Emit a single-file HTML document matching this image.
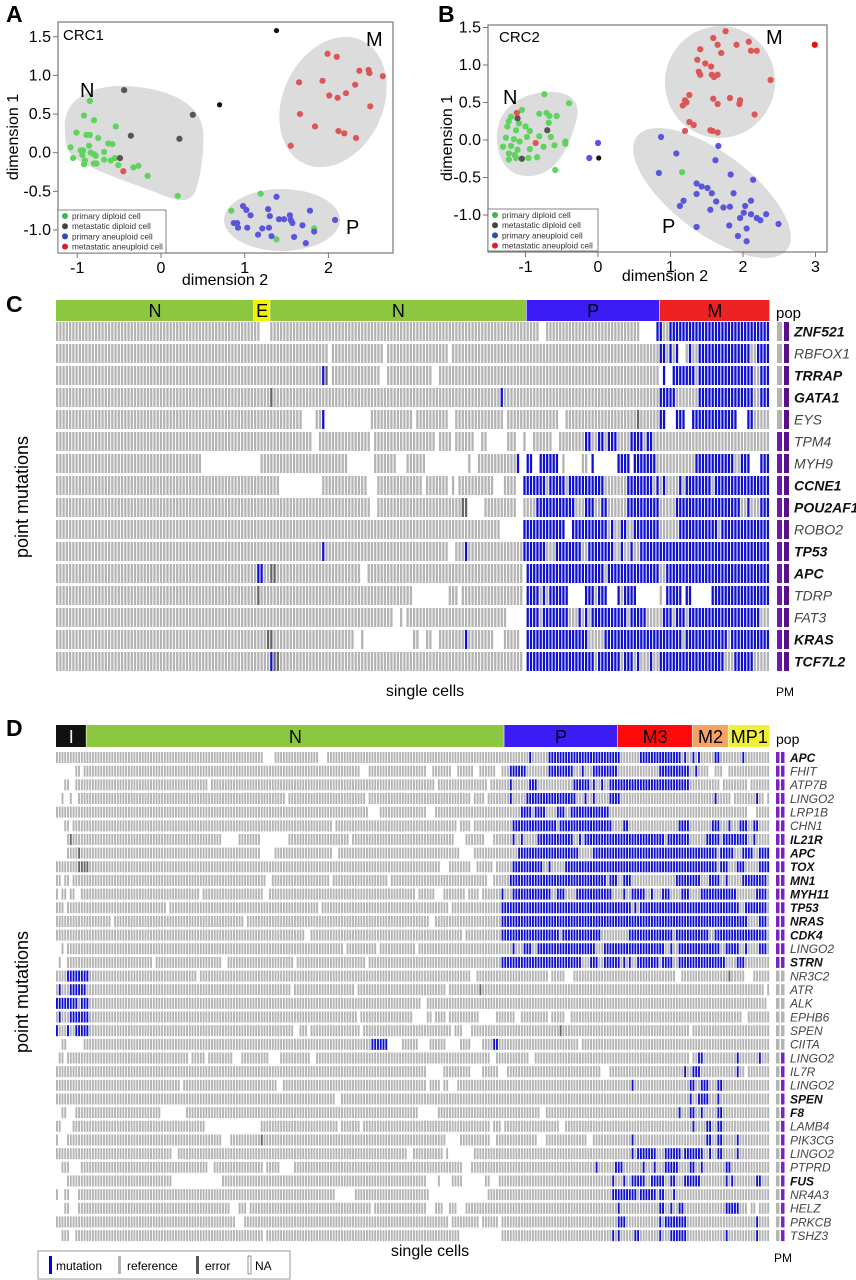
<!DOCTYPE html>
<html><head><meta charset="utf-8"><style>
html,body{margin:0;padding:0;background:#fff;}
svg{display:block;font-family:"Liberation Sans",Arial,sans-serif;}
</style></head><body>
<svg id="fig" width="856" height="1280" viewBox="0 0 856 1280" xmlns="http://www.w3.org/2000/svg">
<g id="pa">
<text x="6" y="22" font-size="23" font-weight="bold">A</text>
<path d="M65,130 C62,100 90,86 120,86 C160,86 200,100 203,130 C205,150 200,180 195,192 C190,202 180,202 165,196 C130,182 95,172 75,158 C66,152 65,142 65,130 Z" fill="#dcdcdc"/>
<ellipse cx="333" cy="102" rx="50" ry="68" transform="rotate(25 333 102)" fill="#dcdcdc"/>
<ellipse cx="282" cy="220" rx="58" ry="31" fill="#dcdcdc"/>
<rect x="58" y="22" width="335" height="231" fill="none" stroke="#777" stroke-width="1.2"/>
<text x="63" y="40" font-size="15">CRC1</text>
<text x="80" y="97" font-size="20">N</text>
<text x="366" y="46" font-size="20">M</text>
<text x="346" y="234" font-size="20">P</text>
<text x="225" y="285" font-size="16" text-anchor="middle">dimension 2</text>
<text transform="translate(18,137) rotate(-90)" font-size="16" text-anchor="middle">dimension 1</text>
</g>
<g id="pb">
<text x="438" y="22" font-size="23" font-weight="bold">B</text>
<path d="M497,140 C495,110 520,92 550,92 C575,92 582,105 575,125 C568,150 555,175 530,176 C508,177 498,160 497,140 Z" fill="#dcdcdc"/>
<ellipse cx="720" cy="82" rx="55" ry="56" transform="rotate(15 720 82)" fill="#dcdcdc"/>
<ellipse cx="712" cy="193" rx="94" ry="40" transform="rotate(37 712 193)" fill="#dcdcdc"/>
<rect x="488" y="25" width="339" height="227" fill="none" stroke="#777" stroke-width="1.2"/>
<text x="499" y="42" font-size="15">CRC2</text>
<text x="503" y="104" font-size="20">N</text>
<text x="766" y="44" font-size="20">M</text>
<text x="662" y="233" font-size="20">P</text>
<text x="665" y="281" font-size="16" text-anchor="middle">dimension 2</text>
<text transform="translate(452,138) rotate(-90)" font-size="16" text-anchor="middle">dimension 1</text>
</g>
<g id="pc">
<text x="6" y="312" font-size="23" font-weight="bold">C</text>
<text x="776" y="318" font-size="15">pop</text>
<text x="776" y="696" font-size="12">PM</text>
<text x="425" y="696" font-size="16" text-anchor="middle">single cells</text>
<text transform="translate(28,497) rotate(-90)" font-size="18" text-anchor="middle">point mutations</text>
</g>
<g id="pd">
<text x="6" y="736" font-size="23" font-weight="bold">D</text>
<text x="776" y="744" font-size="14">pop</text>
<text x="774" y="1262" font-size="12">PM</text>
<text x="430" y="1256" font-size="16" text-anchor="middle">single cells</text>
<text transform="translate(28,992) rotate(-90)" font-size="18" text-anchor="middle">point mutations</text>
<g>
<rect x="38" y="1251" width="252" height="28" fill="#fff" stroke="#999"/>
<rect x="49" y="1256" width="3" height="18" fill="#0000ee"/>
<text x="56" y="1270" font-size="12">mutation</text>
<rect x="118" y="1256" width="3" height="18" fill="#b4b4b4"/>
<text x="127" y="1270" font-size="12">reference</text>
<rect x="196" y="1256" width="3" height="18" fill="#555"/>
<text x="205" y="1270" font-size="12">error</text>
<rect x="248" y="1256" width="3" height="18" fill="#fff" stroke="#777" stroke-width="0.8"/>
<text x="255" y="1270" font-size="12">NA</text>
</g>
</g>
</svg>
<script>
// ---------- Panel A data ----------
const aGreenX=[-0.85,-0.92,-0.80,-0.54,-1.01,-0.89,-0.85,-0.75,-1.08,-0.86,-0.63,-0.58,-0.96,-0.93,-0.84,-0.80,-0.68,-0.94,-0.78,-1.05,-0.91,-0.68,-0.55,-0.92,-0.80,-0.77,-0.60,-0.51,-0.33,-0.27,-0.16,0.20,1.19,0.84,1.83,1.38];
const aGreenY=[0.67,0.48,0.42,0.34,0.26,0.23,0.23,0.19,0.07,0.09,0.12,0.11,0.03,0.03,0.0,-0.02,0.01,-0.03,-0.04,-0.07,-0.10,-0.09,-0.07,-0.15,-0.14,-0.14,-0.10,-0.16,-0.19,-0.17,-0.30,-0.56,-0.53,-0.75,-0.98,-1.12];
const aGrayX=[-0.44,0.38,-0.36,0.22,-0.49];
const aGrayY=[0.81,0.49,0.22,0.18,-0.07];
const aBlackX=[1.38,0.70];
const aBlackY=[1.58,0.62];
const aRedX=[-0.45,1.99,2.10,1.65,1.93,2.37,2.48,2.49,2.65,2.01,2.11,2.21,2.32,1.66,2.50,1.84,2.12,2.19,2.33,1.55];
const aRedY=[-0.24,1.28,1.24,0.91,0.93,1.06,1.07,1.03,0.99,0.74,0.71,0.77,0.88,0.50,0.60,0.34,0.28,0.25,0.19,0.09];
const aBlueX=[0.98,1.02,1.07,1.28,1.38,1.30,1.41,1.47,1.54,1.55,1.57,1.78,0.87,0.91,0.92,1.03,1.21,1.29,1.16,1.32,1.59,1.69,1.73,1.83,2.08];
const aBlueY=[-0.69,-0.74,-0.81,-0.73,-0.57,-0.82,-0.86,-0.86,-0.81,-0.87,-0.91,-0.75,-0.91,-0.91,-0.97,-0.97,-0.98,-0.97,-1.06,-1.08,-1.09,-0.94,-1.17,-1.02,-0.87];
const aXTicks=[-1,0,1,2];
const aXTickLabels=['-1','0','1','2'];
const aYTicks=[1.5,1.0,0.5,0,-0.5,-1.0];
const aYTickLabels=['1.5','1.0','0.5','0.0','-0.5','-1.0'];
// ---------- Panel B data ----------
const bGreenX=[-0.74,-0.40,-1.05,-0.81,-0.71,-0.67,-0.57,-1.20,-1.23,-1.09,-0.68,-1.00,-1.25,-0.94,-1.13,-0.81,-0.65,-0.98,-1.27,-1.16,-1.08,-0.45,-0.45,-0.60,-1.31,-1.20,-0.75,-1.11,-0.94,-1.23,-1.15,-0.84,-0.96,-1.23,-1.13,-0.59,1.16];
const bGreenY=[0.61,0.49,0.40,0.35,0.36,0.32,0.32,0.31,0.25,0.22,0.23,0.18,0.18,0.12,0.13,0.05,0.04,0.04,0.03,0.01,-0.02,-0.02,-0.05,-0.07,-0.09,-0.08,-0.09,-0.13,-0.12,-0.18,-0.20,-0.23,-0.24,-0.26,-0.24,-0.40,-0.43];
const bGrayX=[-1.11,-0.70,-1.05];
const bGrayY=[0.29,0.13,-0.25];
const bBlackX=[0.01];
const bBlackY=[-0.24];
const bRedX=[-1.12,-0.86,2.99,1.76,1.59,1.65,1.91,2.08,1.41,1.70,2.11,2.19,1.37,1.48,1.56,1.39,1.41,1.57,1.60,1.65,2.38,1.26,1.20,1.22,1.17,1.59,1.65,1.82,1.96,1.95,2.16,1.26,1.32,1.20,1.55,1.58,1.65];
const bRedY=[0.36,-0.04,1.27,1.45,1.36,1.27,1.27,1.31,1.21,1.16,1.19,1.19,1.07,1.02,0.98,0.91,0.87,0.87,0.84,0.87,0.80,0.60,0.53,0.50,0.46,0.55,0.48,0.56,0.53,0.48,0.34,0.24,0.20,0.12,0.13,0.12,0.10];
const bBlueX=[0,-0.12,0.87,1.66,1.08,1.62,0.84,1.83,2.14,1.36,1.43,1.51,1.36,1.57,1.87,1.18,1.63,1.13,2.11,1.73,1.82,2.03,1.55,2.01,2.32,2.11,1.96,2.19,2.24,1.81,2.05,2.49,1.36,1.93,2.05];
const bBlueY=[-0.04,-0.24,0.04,-0.08,-0.18,-0.27,-0.44,-0.46,-0.53,-0.58,-0.62,-0.64,-0.72,-0.71,-0.71,-0.81,-0.82,-0.88,-0.81,-0.90,-0.89,-0.88,-0.93,-0.97,-0.99,-0.99,-1.04,-1.04,-1.07,-1.14,-1.18,-1.12,-1.16,-1.28,-1.35];
const bXTicks=[-1,0,1,2,3];
const bXTickLabels=['-1','0','1','2','3'];
const bYTicks=[1.5,1.0,0.5,0,-0.5,-1.0];
const bYTickLabels=['1.5','1.0','0.5','0.0','-0.5','-1.0'];
const legendLabels=['primary diploid cell','metastatic diploid cell','primary aneuploid cell','metastatic aneuploid cell'];
const legendColors=['#3cb94a','#444444','#2a4fb5','#e02020'];
// ---------- Panel C data ----------
const cGenes=['ZNF521','RBFOX1','TRRAP','GATA1','EYS','TPM4','MYH9','CCNE1','POU2AF1','ROBO2','TP53','APC','TDRP','FAT3','KRAS','TCF7L2'];
const cBold=[1,0,1,1,0,0,0,1,1,0,1,1,0,0,1,1];
const cPop=['gp','gp','gp','gp','gp','vp','vp','vp','vp','vp','vp','vp','vp','vp','vp','vp'];
const cGroups=['N','E','N','P','M'];
const cGroupCells=[61,5,79,41,34];
const cGroupColors=['#8dc63f','#f2f200','#8dc63f','#3c1cf4','#ee2222'];
const cRows=[
'g63 w3 g83 w2 g29 w5 b2 g2 b31',
'g84 w1 g16 w1 g19 w1 g64 b2 g1 b1 g1 b1 w2 g1 b1 g2 b16 g2 b4',
'g82 b1 d1 w1 g15 w2 g14 w2 g68 w1 b1 w2 b7 g1 b17 g2 b3',
'g66 d1 g70 b1 g48 b5 g7 b17 g2 b3',
'g76 w4 g2 b1 w14 g13 w1 g10 w2 g15 w1 g16 w2 g22 d1 g6 b2 w3 b3 w2 b14 w3 b2 g5',
'g79 w2 g16 w1 g19 w1 g4 w1 g6 w2 g2 w6 g3 w2 g1 w2 g6 w2 g8 b2 g2 b2 g1 b3 g4 b4 g1 b2 g2 g34',
'g45 w18 g27 w8 g7 w3 g6 w13 g1 w2 g12 b1 w1 w1 b2 w2 b6 w1 g1 w5 g2 w1 b1 w7 b4 w1 b7 g1 g11 b12 g2 b3 w3 b3',
'g69 w13 g14 w3 g14 w1 g7 w1 g1 w1 g11 w3 g4 w2 b1 b6 g1 b5 g1 b11 g7 b8 g1 b1 g1 b1 g4 b1 g1 b8 g1 b17',
'g97 w2 g26 d2 w5 g10 w2 g1 g3 b12 g3 b3 g2 b2 g6 b6 b4 g5 b20 g2 b1 g3 b3',
'g137 w7 b1 b12 w2 b11 g1 b1 g2 b2 g2 b8 g6 b12 g1 b15',
'g82 b1 g38 w2 g3 b1 g17 b1 b6 g3 b8 g2 b8 g2 b1 g2 b1 g2 b6 b34',
'g62 b2 g2 d2 g26 w2 g48 w1 b24 g1 b16 g2 b32',
'g62 d1 g47 w11 g3 w1 g19 w1 b4 g1 b1 g1 b6 w5 b3 g1 b3 w3 b1 g1 b4 w4 w3 g1 w1 b5 w1 b2 w6 b18',
'g104 w2 g1 w1 g31 w6 b4 g1 b8 g3 b1 g1 b1 g1 b11 g1 b5 g4 g1 b3 g1 b3 g1 b22 g3',
'g65 d2 g25 w2 g1 w15 g2 w2 g2 w2 g8 b1 g8 w3 g5 w2 b19 g5 b17 b7 g1 b13 g1 b12',
'g66 b1 d2 g75 w1 b21 g1 b7 g1 b3 g1 b1 g3 b1 g2 b20 g3 b6 g5'
];
// ---------- Panel D data ----------
const dGenes=['APC','FHIT','ATP7B','LINGO2','LRP1B','CHN1','IL21R','APC','TOX','MN1','MYH11','TP53','NRAS','CDK4','LINGO2','STRN','NR3C2','ATR','ALK','EPHB6','SPEN','CIITA','LINGO2','IL7R','LINGO2','SPEN','F8','LAMB4','PIK3CG','LINGO2','PTPRD','FUS','NR4A3','HELZ','PRKCB','TSHZ3'];
const dBold=[1,0,0,0,0,0,1,1,1,1,1,1,1,1,0,1,0,0,0,0,0,0,0,0,0,1,1,0,0,0,0,1,0,0,0,0];
const dPop=['vv','vv','vv','vv','vv','vv','vv','vv','vv','vv','vv','vv','vv','vv','vv','vv','gg','gg','gg','gg','gg','gg','gv','gv','gv','gv','gv','gv','gv','gv','gv','gv','gv','gv','gv','gv'];
const dGroups=['I','N','P','M3','M2','MP1'];
const dGroupCells=[11,151,41,27,13,15];
const dGroupColors=['#111111','#8dc63f','#3c1cf4','#ff0a0a','#f5a262','#f0f03c'];
const dGroupText=['#ffffff','#000','#000','#000','#000','#000'];
const dRows=[
'w75-78 w95-97 b171 b178-203 b211-225 b227 b230 b232 b238-239 b248',
'w0-6 w9 w110-112 w134-135 w143-144 w151-152 w159-160 b164-169 b178-186 b190 b194-202 b218-228 b231 w236-237 w241-242',
'w0-2 w5-6 w55 w137 w156 b164 b171-173 b187-192 b194 b197 b200-228 w240 w250',
'w0-1 w3-4 w6-7 w83 w112 w150 w155 b164 b170-187 b191 b194 b200-203 b238 b253 w244 w256',
'w113-116 w134-136 b168-171 b173-176 b181-183 b186-199 w250-252',
'w0-2 w5 w100 w145 w150 b165-180 b182-200 b205-206 b225-228 b237-239 b243 b247-249 b252-253',
'w0-3 d5 w60-65 w74-83 w106 w144-147 w155-157 b165 b168 b174-186 b189 b191-219 b221-228 b235-239 b241-249 b252',
'w0-3 d8 w74-78 w100-101 w146-150 b167-188 b194-238 b240-244 b248-251 b254-257',
'd8-11 w139-141 w150-151 w158 b165-175 b178 b184-238 b240-242 b246-248 b254-257',
'w2 w5 w76-77 w99 w120 w156-157 b164-198 b200-202 b205-207 b224-232 b236-239 b242 b248-256',
'w1 w4 w7-8 w52 w75-76 w130 w137-139 w148 w153 b161 b165-178 b181-183 b188-200 b205 b208-212 b215 b219-221 b226-228 b233-245 b253-256',
'w3 w40 w95 w142 b161-207 b209 b211-246 b249-256',
'w20 w68 w135-136 b161-207 b208-249 b254-256',
'w90-91 w147 b161-181 b183-196 b207-222 b224-235 b238-256',
'w0-1 w3 w104 w116 w130 b165 b169-171 b174-194 b198-219 b222 b225-239 b242-246 b249 b254-256',
'w0 w2-3 w35 w60-61 w86 w112 b161-189 b193-195 b198-203 b205 b207 b210-217 b219-222 b225-241 b246-248',
'b4-11 w51 w150-151 w178 w184-186 w224-225 d243 w249-251',
'b1 b5-10 w85 w108 w141 d153 w256',
'b0-7 b9-11 w132-133 w257',
'b1 b5-11 w109 w129-133 w136 w141 w153-158 w166-167 w178 w184-185 w248-249',
'b0 b4 b7-11 w86-87 w91 w110 w143 w147-149 d182 w229',
'w0-1 w4-9 b114-119 w120-124 w131-134 w141-145 w150-153 b158-159 w189',
'w0 w3 w48 w54 w64-66 w77-80 w92-93 w157-158 w171-172 w229 b232-233 b246 b254',
'w134-139 w150-153 w160-162 w197-199 b227 b230-232 b246 w249',
'w45 w80-81 w134 w139 w142-144 b208 b229-230 b233-235 b239-240',
'w101-102 b229 b232-235 b239',
'w0-1 w4-6 w38-46 w131-137 w175-176 b225 b229-230 b233 b239-240',
'w2-5 w54-73 w102 w110 w157 w161 w182-183 b230 b235-236 b239-240',
'w1-3 w60-62 d74 w141-145 w157-158 w174-176 w192-193 b208 b235-236 b239-240 b246',
'w42-43 w127-128 w140 w142-150 b208 b210-216 b220-225 b227-233 b236 b239-240 b246',
'w0-1 w5-8 w55-56 w75 w81-85 w147-149 b195 b202-204 b212 b216 b220-224 b229-230 b233 b242-243',
'w0-3 w42-59 w134-137 w139-142 w147-154 w157-159 b201 b205 b208-212 b215-219 b222-223 b227-232 b242 b244 b253-254',
'w1-2 w5-7 w101-107 w135-155 b201-209 b211-216 b218-219 b223',
'w0-2 w5-7 w63-65 w69 w114 w134-136 w140-141 w145-147 b203 b218-219 b222 b225-226 b242-246 w250 w253',
'w65-67 w142 w153 w160 b203-205 b218 b220-227 b253',
'w0-1 w5-6 w75 w146-160 b201 b203 b209-210 b218 b222-227 b242 b253'
];

const NS='http://www.w3.org/2000/svg';
function mk(tag,attrs,parent){const e=document.createElementNS(NS,tag);for(const k in attrs)e.setAttribute(k,attrs[k]);parent.appendChild(e);return e;}
const COL={g:'#b4b4b4',b:'#0f0fd0',d:'#666666'};

// ---------- scatter ----------
function scatter(gid,sx,sy,frame,xt,xtl,yt,ytl,series,leg){
  const g=document.getElementById(gid);
  xt.forEach((v,i)=>{const x=sx(v);
    const t=mk('line',{x1:x,x2:x,y1:frame.b,y2:frame.b+5,stroke:'#777'},g);
    
    
    const l=mk('text',{x:x,y:frame.b+20,'font-size':16,'text-anchor':'middle'},g);l.textContent=xtl[i];
    
    });
  yt.forEach((v,i)=>{const y=sy(v);
    const t=mk('line',{x1:frame.l-5,x2:frame.l,y1:y,y2:y,stroke:'#777'},g);
    
    
    const l=mk('text',{x:frame.l-7,y:y+5,'font-size':16,'text-anchor':'end'},g);l.textContent=ytl[i];
    
    });
  series.forEach(s=>{s.x.forEach((v,i)=>{
    const c=mk('circle',{cx:sx(v),cy:sy(s.y[i]),r:s.r,fill:s.c},g);
    
    });});
  const lb=mk('rect',{x:leg.x,y:leg.y,width:leg.w,height:leg.h,fill:'#fff',stroke:'#666','stroke-width':0.8},g);
  
  
  legendLabels.forEach((t,i)=>{const yy=leg.y+6+i*10.2;
    const d=mk('circle',{cx:leg.x+7,cy:yy,r:3,fill:legendColors[i]},g);
    
    
    const tx=mk('text',{x:leg.x+14,y:yy+3,'font-size':8.3,fill:'#333'},g);tx.textContent=t;
    
    });
}
const ax=v=>161+83.7*v, ay=v=>152.7-77.3*v;
scatter('pa',ax,ay,{l:58,b:253},aXTicks,aXTickLabels,aYTicks,aYTickLabels,[
 {x:aGreenX,y:aGreenY,c:'#5ed35e',r:3.1,n:'point-primary-diploid'},
 {x:aGrayX,y:aGrayY,c:'#555555',r:3.1,n:'point-metastatic-diploid'},
 {x:aBlackX,y:aBlackY,c:'#111111',r:2.6,n:'point-outlier'},
 {x:aRedX,y:aRedY,c:'#dd5555',r:3.1,n:'point-metastatic-aneuploid'},
 {x:aBlueX,y:aBlueY,c:'#5a55dd',r:3.1,n:'point-primary-aneuploid'}],
 {x:58,y:210,w:108,h:43});
const bx=v=>598+72.5*v, by=v=>140-75*v;
scatter('pb',bx,by,{l:488,b:252},bXTicks,bXTickLabels,bYTicks,bYTickLabels,[
 {x:bGreenX,y:bGreenY,c:'#5ed35e',r:3.1,n:'point-primary-diploid'},
 {x:bGrayX,y:bGrayY,c:'#555555',r:3.1,n:'point-metastatic-diploid'},
 {x:bBlackX,y:bBlackY,c:'#111111',r:2.6,n:'point-outlier'},
 {x:bRedX,y:bRedY,c:'#dd5555',r:3.1,n:'point-metastatic-aneuploid'},
 {x:bBlueX,y:bBlueY,c:'#5a55dd',r:3.1,n:'point-primary-aneuploid'}],
 {x:488,y:209,w:110,h:42});
// red outlier in B is brighter
document.querySelectorAll('#pb circle').forEach(c=>{if(+c.getAttribute('cx')>810)c.setAttribute('fill','#e81010');});

// ---------- heatmaps ----------
function parseRLE(s,n){const out=[];s.trim().split(/\s+/).forEach(t=>{const k=t[0],c=+t.slice(1);for(let i=0;i<c;i++)out.push(k);});while(out.length<n)out.push('g');return out.slice(0,n);}
function parseOv(s,n){const out=new Array(n).fill('g');s.trim().split(/\s+/).forEach(t=>{if(!t)return;const k=t[0];const r=t.slice(1).split('-');const a=+r[0],b=r.length>1?+r[1]:a;for(let i=a;i<=b&&i<n;i++)out[i]=k;});return out;}
function heat(gid,cfg){
  const g=document.getElementById(gid);
  const n=cfg.groupCells.reduce((a,b)=>a+b,0);
  const pitch=(cfg.x1-cfg.x0)/n;
  const cx=i=>cfg.x0+i*pitch;
  let acc=0;
  cfg.groups.forEach((nm,i)=>{const x=cx(acc),w=cfg.groupCells[i]*pitch;
    const r=mk('rect',{x:x,y:cfg.hy,width:w-0.6,height:cfg.hh,fill:cfg.groupColors[i]},g);
    
    
    const t=mk('text',{x:x+w/2,y:cfg.hy+cfg.hh-4,'font-size':cfg.hfs,'text-anchor':'middle',fill:cfg.groupText?cfg.groupText[i]:'#000'},g);t.textContent=nm;
    
    
    acc+=cfg.groupCells[i];});
  cfg.rows.forEach((s,ri)=>{
    const st=cfg.parse(s,n);const y=cfg.ry+ri*cfg.rp;
    st.forEach((k,i)=>{if(k==='w')return;
      const r=mk('rect',{x:cx(i),y:y,width:pitch*cfg.cw,height:cfg.rh,fill:COL[k]},g);
      
      });
    const pc={g:'#b4b4b4',v:cfg.popV,p:'#5a0f8c'};
    const p=cfg.pop[ri];
    [0,1].forEach(j=>{const r=mk('rect',{x:cfg.px+j*cfg.pw2,y:y,width:cfg.pw,height:cfg.rh,fill:pc[p[j]]},g);
      
      });
    const t=mk('text',{x:cfg.lx,y:y+cfg.rh/2+cfg.lfs*0.36,'font-size':cfg.lfs,'font-style':'italic','font-weight':cfg.bold[ri]?'bold':'normal',fill:cfg.bold[ri]?'#111':'#444'},g);
    t.textContent=cfg.genes[ri];
    
    
  });
}
heat('pc',{x0:56,x1:770,groups:cGroups,groupCells:cGroupCells,groupColors:cGroupColors,hy:300,hh:21,hfs:18,
  rows:cRows,parse:parseRLE,ry:322,rp:22,rh:19,cw:0.7,pop:cPop,popV:'#6a1bb0',px:777,pw:5,pw2:7,lx:794,lfs:14,bold:cBold,genes:cGenes});
heat('pd',{x0:56,x1:770,groups:dGroups,groupCells:dGroupCells,groupColors:dGroupColors,groupText:dGroupText,hy:725,hh:22,hfs:18,
  rows:dRows,parse:parseOv,ry:752,rp:13.66,rh:11,cw:0.68,pop:dPop,popV:'#7a22c8',px:776,pw:3.5,pw2:5,lx:790,lfs:12,bold:dBold,genes:dGenes});
</script>
</body></html>
